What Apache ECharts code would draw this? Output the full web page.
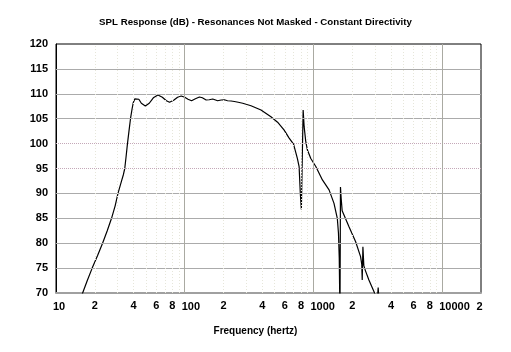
<!DOCTYPE html>
<html>
<head>
<meta charset="utf-8">
<script src="https://cdn.jsdelivr.net/npm/echarts@6/dist/echarts.min.js"></script>
<style>
html, body { margin: 0; padding: 0; background: #fff; }
#chart { width: 511px; height: 352px; }
</style>
</head>
<body>
<div id="chart"></div>
<script>
// frequency (Hz) and SPL (dB); points below 70 dB are clipped by the axis
var freqHz = [15, 16.1, 17.5, 19.1, 21, 23, 25, 27, 28.8, 30.3, 32.3, 33.4, 34.2, 35, 35.9, 37, 37.9, 39, 39.8, 41, 42.2, 44, 46, 49.4,
	53, 57, 61.9, 67, 72, 76.2, 82, 88, 93.9, 100, 106, 113, 121, 130, 137, 146.6, 155, 165, 180, 192,
	203, 215, 229, 243, 260, 282, 327, 391, 467, 526, 592, 647, 700, 750, 773, 790, 805, 818, 831, 846,
	870, 897, 953, 1042, 1173, 1321, 1443, 1531, 1563, 1585, 1606, 1620, 1640, 1670, 1887, 2125, 2321, 2370, 2390, 2420,
	2460, 2530, 2694, 2981, 3100, 3180, 3250, 3400];
var splDb = [67, 70, 72.5, 75, 77.5, 80, 82.5, 85, 87.5, 90, 92.5, 93.8, 95, 97.3, 100, 102.8, 105, 107, 108.2, 109, 109.3, 108.9, 108.1, 107.55,
	108.1, 109.2, 109.75, 109.3, 108.6, 108.3, 108.7, 109.3, 109.55, 109.3, 108.9, 108.6, 109.0, 109.35, 109.2, 108.75, 108.8, 108.96, 108.6, 108.75,
	108.8, 108.6, 108.55, 108.45, 108.3, 108.1, 107.6, 106.75, 105.4, 104.3, 102.7, 101.1, 99.9, 97, 95.4, 90, 86.8, 97, 106.75, 103.4,
	100.5, 98.7, 97.0, 95.4, 92.7, 90.7, 88, 85, 82, 77, 65, 91.3, 89, 86.5, 83.3, 80.3, 77.3, 75.8, 72.6, 79.3,
	75.5, 74.5, 72.6, 70, 67, 71.1, 67, 62];

var yTicks = [75, 80, 85, 90, 95, 100, 105, 110, 115];
var dottedY = [95, 100];
var decadeX = [100, 1000, 10000];
var minorX = [20, 30, 40, 50, 60, 70, 80, 90, 200, 300, 400, 500, 600, 700, 800, 900,
	2000, 3000, 4000, 5000, 6000, 7000, 8000, 9000];
var labelledMinor = [20, 40, 60, 80, 200, 400, 600, 800, 2000, 4000, 6000, 8000];

var font = "'Liberation Sans', Arial, sans-serif";

var points = freqHz.map(function(f, i) { return [f, splDb[i]]; });

var gridLines = [];
yTicks.forEach(function(v) {
	var dotted = dottedY.indexOf(v) >= 0;
	gridLines.push({
		yAxis: v,
		lineStyle: dotted ? { color: '#c4a8b8', type: [1, 1], width: 1 } : { color: '#ababab', type: 'solid', width: 1 }
	});
});
decadeX.forEach(function(v) {
	gridLines.push({ xAxis: v, lineStyle: { color: '#aaaaa2', type: 'solid', width: 1 } });
});
minorX.forEach(function(v) {
	var first = String(v).charAt(0);
	gridLines.push({
		xAxis: v,
		lineStyle: { color: '#e6e6da', type: [1, 2], width: 1 },
		label: labelledMinor.indexOf(v) >= 0 ? { show: true, formatter: first } : { show: false }
	});
});

var chart = echarts.init(document.getElementById('chart'));
chart.setOption({
	animation: false,
	title: [{
		text: 'SPL Response (dB) - Resonances Not Masked - Constant Directivity',
		left: 'center',
		top: 17,
		padding: 0,
		textStyle: { fontSize: 9.7, fontWeight: 'bold', color: '#000', fontFamily: font }
	}, {
		text: 'Frequency (hertz)',
		left: 'center',
		top: 326,
		padding: 0,
		textStyle: { fontSize: 10, fontWeight: 'bold', color: '#000', fontFamily: font }
	}],
	grid: {
		left: 56,
		right: 30,
		top: 44,
		bottom: 59,
		show: true,
		borderColor: '#000',
		borderWidth: 1,
		backgroundColor: '#fff'
	},
	xAxis: {
		type: 'log',
		logBase: 10,
		min: 10,
		max: 20000,
		axisLine: { show: true, lineStyle: { color: '#a0a0a0', width: 2 } },
		axisTick: { show: false },
		splitLine: { show: false },
		axisLabel: {
			margin: 8,
			color: '#000',
			fontSize: 11,
			fontWeight: 'bold',
			fontFamily: font,
			formatter: function(v) {
				var r = Math.round(v);
				if (r === 20000) return '2 ';
				// decade labels sit to the right of their gridline
				var s = String(r);
				return new Array(2 * (s.length - 1) + 1).join(' ') + s;
			}
		}
	},
	yAxis: {
		type: 'value',
		min: 70,
		max: 120,
		interval: 5,
		axisLine: { show: true, lineStyle: { color: '#000', width: 1 } },
		axisTick: { show: false },
		splitLine: { show: false },
		axisLabel: {
			margin: 8,
			color: '#000',
			fontSize: 11,
			fontWeight: 'bold',
			fontFamily: font
		}
	},
	series: [{
		name: 'grid',
		type: 'line',
		z: 1,
		data: [],
		silent: true,
		markLine: {
			silent: true,
			symbol: ['none', 'none'],
			label: {
				show: false,
				position: 'start',
				distance: 7,
				color: '#000',
				fontSize: 11,
				fontWeight: 'bold',
				fontFamily: font
			},
			data: gridLines
		}
	}, {
		name: 'SPL',
		type: 'line',
		z: 3,
		data: points,
		showSymbol: false,
		clip: true,
		lineStyle: { color: '#000', width: 1.2 }
	}]
});
</script>
</body>
</html>
